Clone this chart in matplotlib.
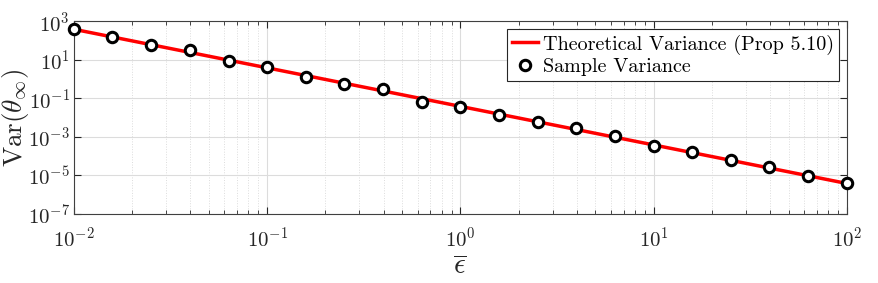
import matplotlib
matplotlib.use("Agg")
import matplotlib.pyplot as plt
import numpy as np

plt.rcParams['font.family'] = 'serif'
plt.rcParams['font.serif'] = ['cmr10']
plt.rcParams['mathtext.fontset'] = 'cm'
plt.rcParams['axes.formatter.use_mathtext'] = True

# theoretical variance (straight line on log-log), endpoints
eps_theory = [1e-2, 1e2]
var_theory = [385, 3.85e-6]

# sample variance points
eps_sample = [0.01, 0.0158, 0.0251, 0.0398, 0.0631, 0.1, 0.158, 0.251, 0.398, 0.631,
              1.0, 1.58, 2.51, 3.98, 6.31, 10, 15.8, 25.1, 39.8, 63.1, 100]
var_sample = [385, 148, 57, 32.4, 8.7, 4.4, 1.33, 0.578, 0.307, 0.067,
              0.037, 0.0137, 0.00574, 0.0028, 0.00108, 3.5e-4, 1.71e-4, 6.3e-5, 2.65e-5, 9.7e-6, 3.9e-6]

fig = plt.figure(figsize=(8.79, 2.83), dpi=100)
ax = fig.add_axes([0.0842, 0.2438, 0.8791, 0.6809])

ax.loglog(eps_theory, var_theory, color='red', lw=2.5, label='Theoretical Variance (Prop 5.10)', zorder=3)
ax.loglog(eps_sample, var_sample, 'o', mfc='white', mec='black', mew=2.2, ms=7.5,
          label='Sample Variance', zorder=4, clip_on=False)

ax.set_xlim(1e-2, 1e2)
ax.set_ylim(1e-7, 1e3)
ax.set_yticks([1e-7, 1e-5, 1e-3, 1e-1, 1e1, 1e3])
ax.set_yticks([], minor=True)
ax.set_xticks([1e-2, 1e-1, 1e0, 1e1, 1e2])

ax.grid(True, which='major', color='#dcdcdc', lw=0.8)
ax.grid(True, which='minor', axis='x', color='#dcdcdc', lw=0.7, ls=':')
ax.set_axisbelow(True)
ax.tick_params(which='both', direction='in', top=True, right=True, colors='#262626',
               labelcolor='#262626', labelsize=15)
ax.tick_params(which='major', length=5)
ax.tick_params(which='minor', length=3)
ax.tick_params(axis='x', pad=9)
ax.tick_params(axis='y', pad=3)
for s in ax.spines.values():
    s.set_color('#404040')

ax.set_xlabel(r'$\overline{\epsilon}$', fontsize=21, color='#262626', labelpad=2)
ax.set_ylabel(r'$\mathrm{Var}(\theta_\infty)$', fontsize=19.5, color='#262626')
ax.yaxis.set_label_coords(-0.056, 0.5)

leg = ax.legend(loc='upper right', fontsize=14.5, frameon=True, fancybox=False,
                edgecolor='#262626', framealpha=1, handlelength=1.3, handletextpad=0.2,
                borderpad=0.25, labelspacing=0.15, borderaxespad=0.4)
leg.get_frame().set_linewidth(0.8)

fig.savefig('out.png', dpi=100)
